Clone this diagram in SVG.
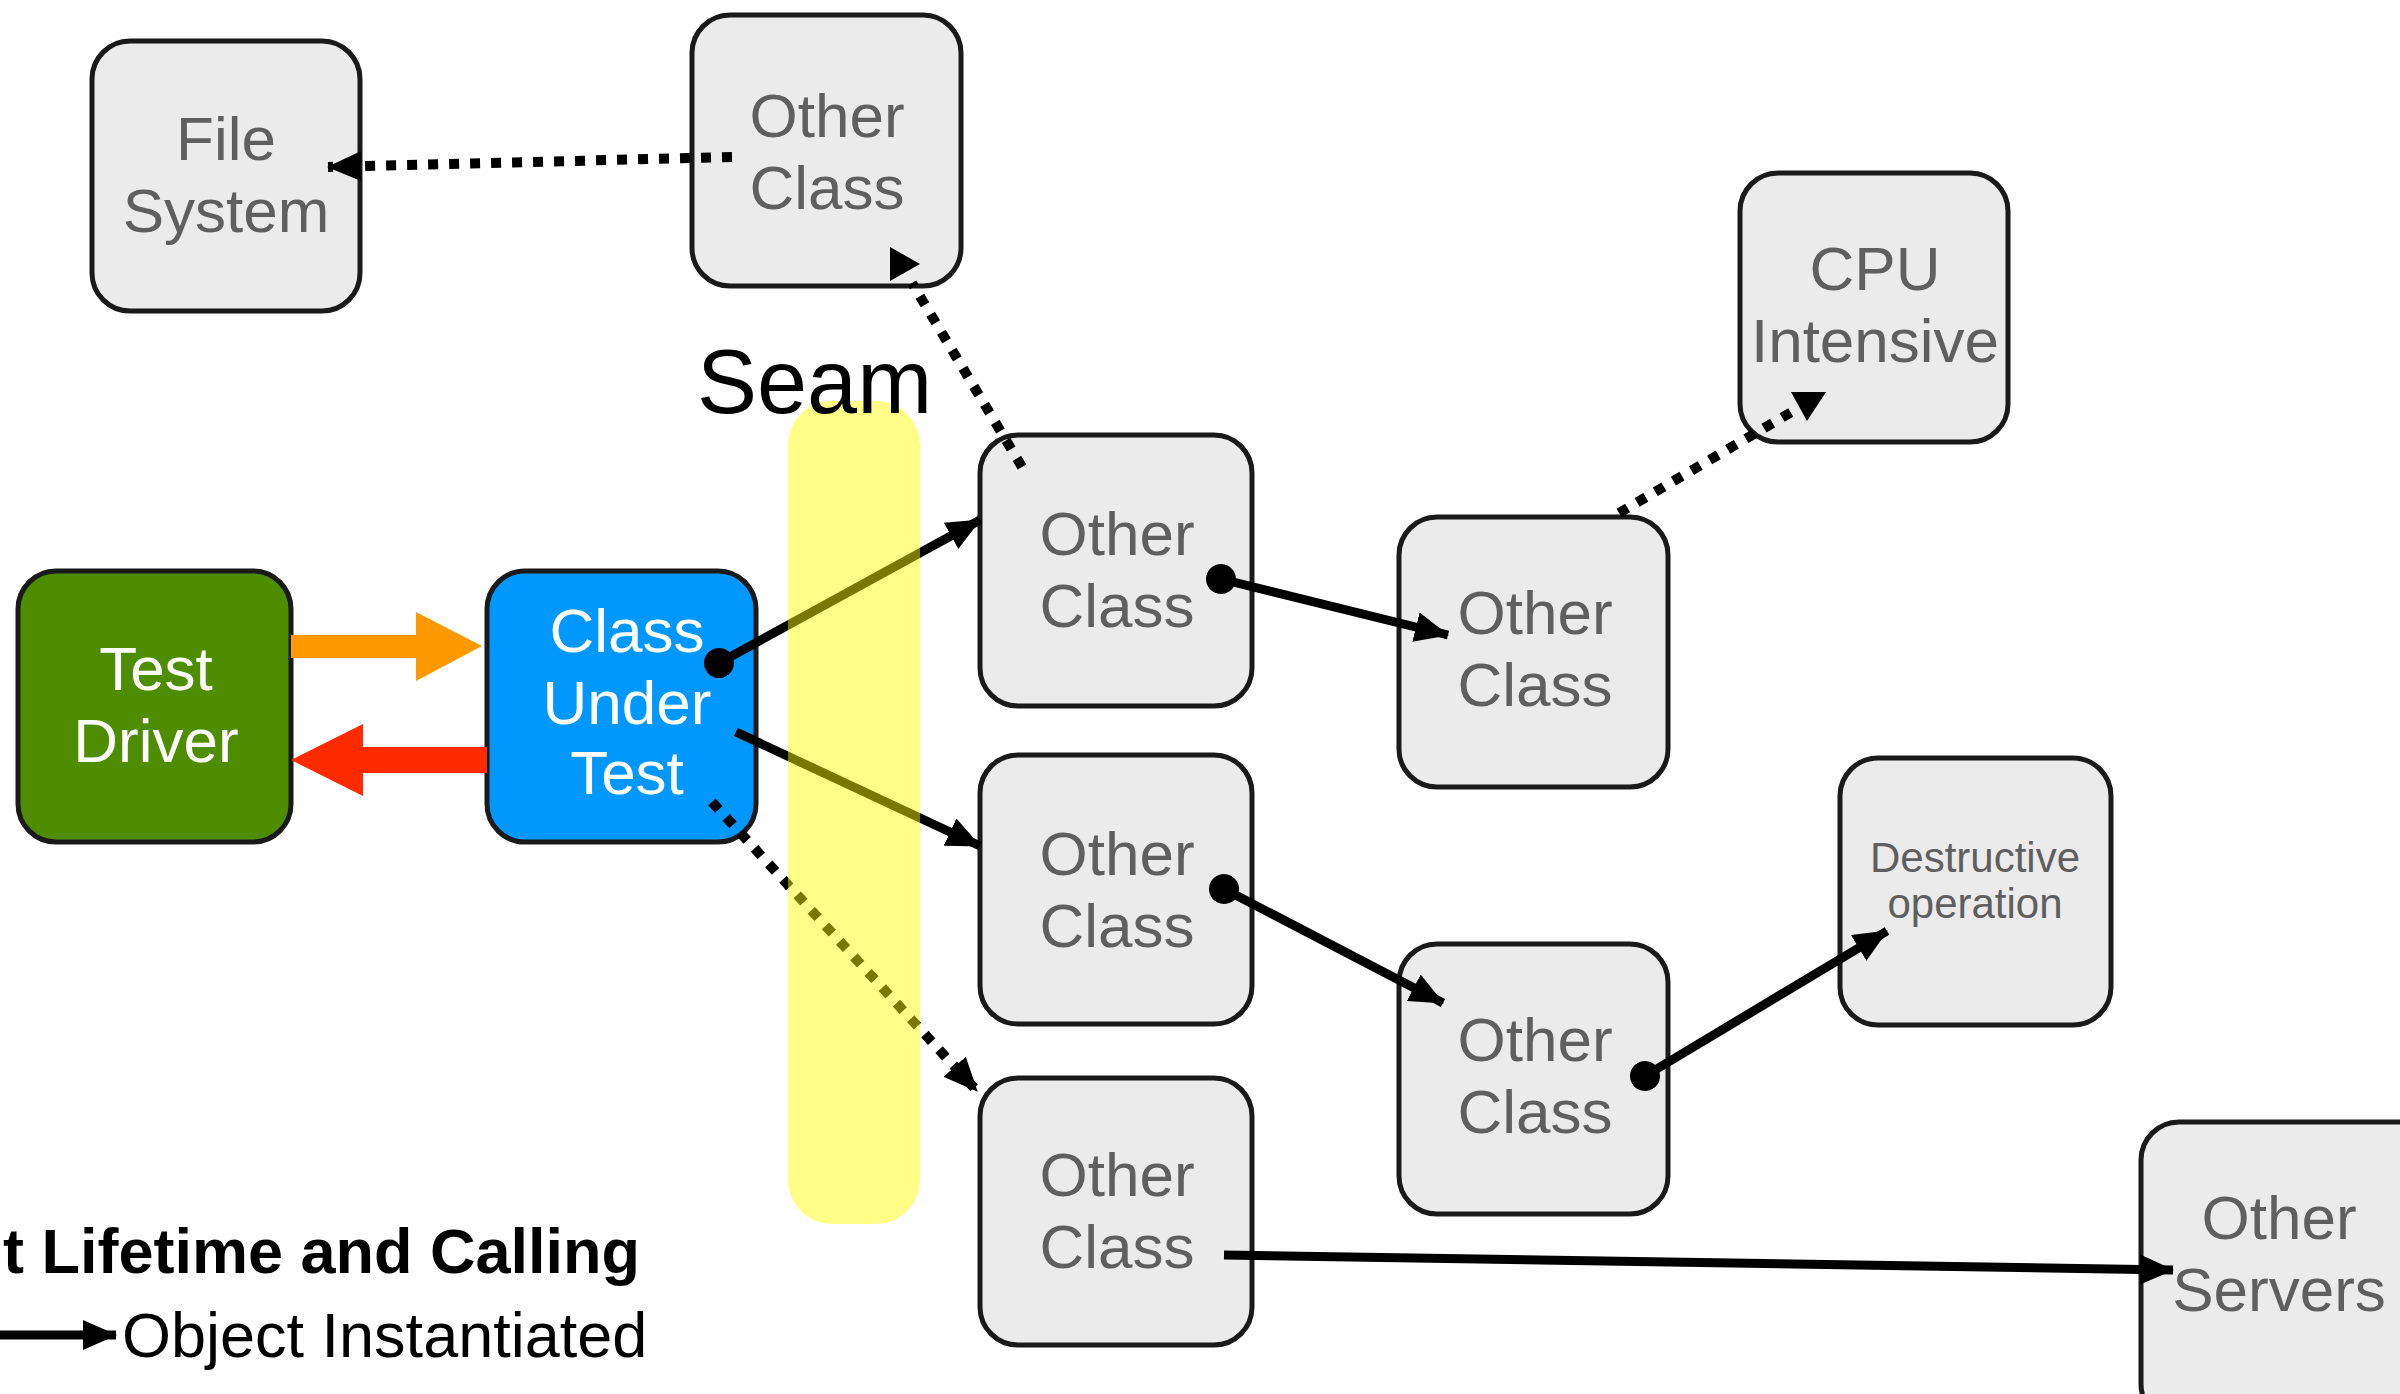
<svg xmlns="http://www.w3.org/2000/svg" width="2400" height="1394" viewBox="0 0 2400 1394">
  <style>
    .node { fill: #ebebeb; stroke: #1a1a1a; stroke-width: 5; }
    .label { font-family: "Liberation Sans", Arial, sans-serif; font-size: 62px; fill: #5f5f5f; text-anchor: middle; }
    .small { font-size: 42px; }
    .white { fill: #ffffff; }
    .call { fill: none; stroke: #000; stroke-width: 9; }
    .dotted { fill: none; stroke: #000; stroke-width: 10; stroke-dasharray: 10 11; }
    .tip { fill: #000; }
    .legend { font-family: "Liberation Sans", Arial, sans-serif; font-size: 63px; fill: #000; }
  </style>
  <defs>
    <marker id="head" markerUnits="userSpaceOnUse" viewBox="0 0 34 30" refX="33" refY="15" markerWidth="34" markerHeight="30" orient="auto">
      <path d="M0,0 L34,15 L0,30 z" fill="#000"/>
    </marker>
    <marker id="dot" markerUnits="userSpaceOnUse" viewBox="0 0 30 30" refX="15" refY="15" markerWidth="30" markerHeight="30" orient="auto">
      <circle cx="15" cy="15" r="15" fill="#000"/>
    </marker>
  </defs>

  <rect width="2400" height="1394" fill="#ffffff"/>

  <!-- nodes -->
  <g id="file-system">
    <rect class="node" x="92" y="41" width="268" height="270" rx="38"/>
    <text class="label" x="226" y="160">File</text>
    <text class="label" x="226" y="232">System</text>
  </g>
  <g id="other-class-top">
    <rect class="node" x="692" y="15" width="269" height="271" rx="38"/>
    <text class="label" x="827" y="137">Other</text>
    <text class="label" x="827" y="209">Class</text>
  </g>
  <g id="test-driver">
    <rect x="18" y="571" width="273" height="271" rx="38" fill="#4e8c00" stroke="#1a1a1a" stroke-width="5"/>
    <text class="label white" x="156" y="690">Test</text>
    <text class="label white" x="156" y="762">Driver</text>
  </g>
  <g id="class-under-test">
    <rect x="487" y="571" width="269" height="271" rx="38" fill="#0098ff" stroke="#1a1a1a" stroke-width="5"/>
    <text class="label white" x="627" y="652">Class</text>
    <text class="label white" x="627" y="724">Under</text>
    <text class="label white" x="627" y="794">Test</text>
  </g>
  <g id="other-class-a">
    <rect class="node" x="980" y="435" width="272" height="271" rx="38"/>
    <text class="label" x="1117" y="555">Other</text>
    <text class="label" x="1117" y="627">Class</text>
  </g>
  <g id="other-class-b">
    <rect class="node" x="980" y="755" width="272" height="269" rx="38"/>
    <text class="label" x="1117" y="875">Other</text>
    <text class="label" x="1117" y="947">Class</text>
  </g>
  <g id="other-class-c">
    <rect class="node" x="980" y="1078" width="272" height="267" rx="38"/>
    <text class="label" x="1117" y="1196">Other</text>
    <text class="label" x="1117" y="1268">Class</text>
  </g>
  <g id="other-class-d">
    <rect class="node" x="1399" y="517" width="269" height="270" rx="38"/>
    <text class="label" x="1535" y="634">Other</text>
    <text class="label" x="1535" y="706">Class</text>
  </g>
  <g id="other-class-e">
    <rect class="node" x="1399" y="944" width="269" height="270" rx="38"/>
    <text class="label" x="1535" y="1061">Other</text>
    <text class="label" x="1535" y="1133">Class</text>
  </g>
  <g id="cpu-intensive">
    <rect class="node" x="1740" y="173" width="268" height="269" rx="38"/>
    <text class="label" x="1875" y="290">CPU</text>
    <text class="label" x="1875" y="362">Intensive</text>
  </g>
  <g id="destructive-operation">
    <rect class="node" x="1840" y="758" width="271" height="267" rx="38"/>
    <text class="label small" x="1975" y="872">Destructive</text>
    <text class="label small" x="1975" y="918">operation</text>
  </g>
  <g id="other-servers">
    <rect class="node" x="2141" y="1122" width="300" height="300" rx="38"/>
    <text class="label" x="2279" y="1239">Other</text>
    <text class="label" x="2279" y="1311">Servers</text>
  </g>

  <!-- connectors -->
  <g id="connectors">
    <!-- test driver calls in, results come back -->
    <path d="M291,635 H416 V612 L482,646 L416,681 V658 H291 z" fill="#ff9900"/>
    <path d="M487,747 H363 V724 L291,760 L363,796 V773 H487 z" fill="#ff2a00"/>

    <path class="dotted" d="M732,157 L328,167" marker-end="url(#head)"/>
    <!-- these two heads keep a fixed orientation -->
    <path class="dotted" d="M1022,467 L912,283"/>
    <path class="tip" d="M890,247 L920,264 L890,281 z"/>
    <path class="dotted" d="M1619,513 L1795,410"/>
    <path class="tip" d="M1791,392 L1826,392 L1807,421 z"/>
    <path class="dotted" d="M712,802 L977,1091" marker-end="url(#head)"/>

    <path class="call" d="M719,663 L980,520" marker-start="url(#dot)" marker-end="url(#head)"/>
    <path class="call" d="M736,732 L980,846" marker-end="url(#head)"/>
    <path class="call" d="M1221,579 L1448,635" marker-start="url(#dot)" marker-end="url(#head)"/>
    <path class="call" d="M1224,889 L1443,1003" marker-start="url(#dot)" marker-end="url(#head)"/>
    <path class="call" d="M1645,1076 L1887,931" marker-start="url(#dot)" marker-end="url(#head)"/>
    <path class="call" d="M1224,1255 L2173,1270" marker-end="url(#head)"/>
  </g>

  <!-- seam band, laid over the calls that cross it -->
  <g id="seam">
    <rect x="788" y="401" width="132" height="823" rx="44" fill="#ffff00" opacity="0.47"/>
    <text x="697" y="413" font-family="'Liberation Sans', Arial, sans-serif" font-size="90" fill="#000">Seam</text>
  </g>

  <!-- legend -->
  <g id="legend">
    <text class="legend" x="640" y="1273" font-weight="bold" text-anchor="end">t Lifetime and Calling</text>
    <path class="call" d="M-10,1335 L116,1335" marker-end="url(#head)"/>
    <text class="legend" x="122" y="1357">Object Instantiated</text>
  </g>
</svg>
